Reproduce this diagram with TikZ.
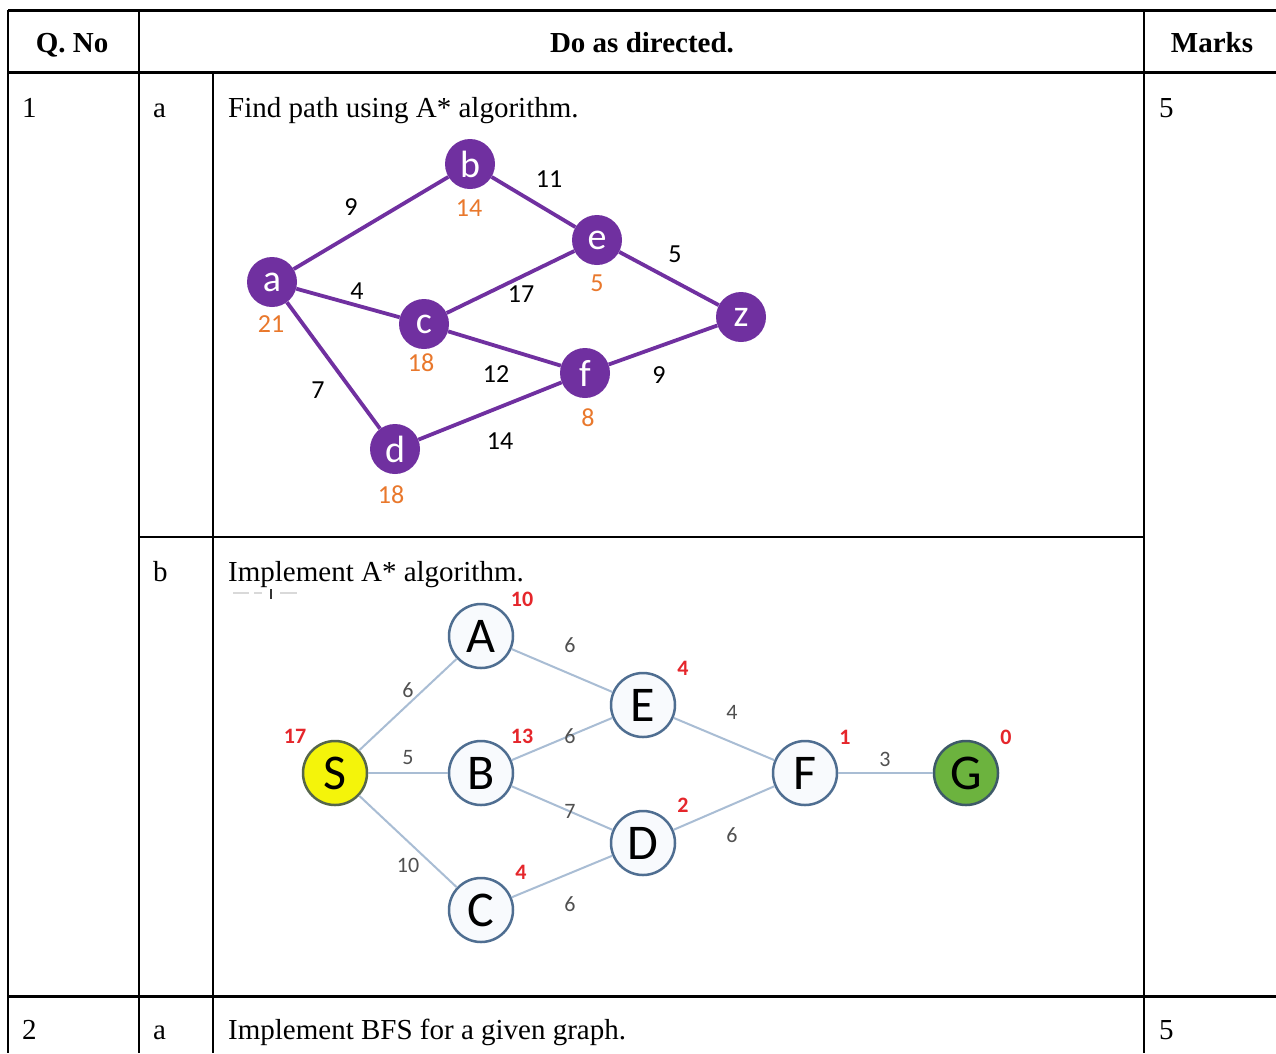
\documentclass[tikz,border=0pt]{standalone}
\usepackage{fontspec}
\setmainfont{Liberation Serif}
\newfontfamily\grfont{Carlito}
\definecolor{gpurple}{HTML}{7030A0}
\definecolor{gorange}{HTML}{E9782C}
\definecolor{gedge}{HTML}{A9BDD4}
\definecolor{gborder}{HTML}{4F6E91}
\definecolor{gfill}{HTML}{F8FAFD}
\definecolor{gred}{HTML}{E5262B}
\definecolor{gweight}{HTML}{505050}
\definecolor{syellow}{HTML}{F4F40A}
\definecolor{sborder}{HTML}{56664A}
\definecolor{ggreen}{HTML}{6CB33E}
\definecolor{gbord}{HTML}{3E5A68}
\tikzset{
  rule/.style={line width=2.5pt, black},
  thickrule/.style={line width=3pt, black},
  cell/.style={anchor=base west, inner sep=0pt, font=\fontsize{29}{34}\selectfont},
  head/.style={anchor=base, inner sep=0pt, font=\bfseries\fontsize{29}{34}\selectfont},
  pnode/.style={circle, fill=gpurple, text=white, minimum size=50pt, inner sep=0pt,
                font=\grfont\fontsize{38}{38}\selectfont},
  pedge/.style={draw=gpurple, line width=3.8pt},
  hval/.style={text=gorange, inner sep=0pt, font=\grfont\fontsize{26}{26}\selectfont},
  wval/.style={text=black, inner sep=0pt, font=\grfont\fontsize{26}{26}\selectfont},
  snode/.style={circle, draw=gborder, fill=gfill, line width=2.5pt, minimum size=64pt,
                inner sep=0pt, font=\grfont\fontsize{50}{50}\selectfont},
  sedge/.style={draw=gedge, line width=2pt},
  rval/.style={text=gred, inner sep=0pt, font=\grfont\bfseries\fontsize{22}{22}\selectfont},
  gval/.style={text=gweight, inner sep=0pt, font=\grfont\fontsize{22}{22}\selectfont},
}
\begin{document}
\begin{tikzpicture}[x=1pt, y=-1pt]
\useasboundingbox (0,0) rectangle (1276,1053);
\fill[white] (0,0) rectangle (1276,1053);

% table rules
\draw[thickrule] (8,10) -- (1276,10);
\draw[thickrule] (8,72) -- (1276,72);
\draw[thickrule] (8,996) -- (1276,996);
\draw[rule] (139,537) -- (1144,537);
\draw[rule] (8,10) -- (8,1053);
\draw[rule] (139,10) -- (139,1053);
\draw[rule] (213,72) -- (213,1053);
\draw[rule] (1144,10) -- (1144,1053);

% header
\node[head] (hq) at (72,52) {Q. No};
\node[head] (hd) at (642,52) {Do as directed.};
\node[head] (hm) at (1212,52) {Marks};

% rows
\node[cell] (q1) at (22,117) {1};
\node[cell] (p1a) at (153,117) {a};
\node[cell] (t1a) at (228,117) {Find path using A* algorithm.};
\node[cell] (m1) at (1159,117) {5};
\node[cell] (p1b) at (153,581) {b};
\node[cell] (t1b) at (228,581) {Implement A* algorithm.};
\node[cell] (q2) at (22,1039) {2};
\node[cell] (p2a) at (153,1039) {a};
\node[cell] (t2a) at (228,1039) {Implement BFS for a given graph.};
\node[cell] (m2) at (1159,1039) {5};

% clipped remnant under the second task line
\draw[black!15, line width=1.5pt] (233,593) -- (249,593) (254,593) -- (262,593) (280,593) -- (297,593);
\draw[black!80, line width=2.5pt] (271,589) -- (271,599);

% first graph
\node[pnode] (a) at (272,282) {a};
\node[pnode] (b) at (470,164) {b};
\node[pnode] (e) at (597,240) {e};
\node[pnode] (c) at (424,324) {c};
\node[pnode] (z) at (741,317) {z};
\node[pnode] (f) at (585,373) {f};
\node[pnode] (d) at (395,449) {d};
\draw[pedge] (a) -- (b);
\draw[pedge] (b) -- (e);
\draw[pedge] (e) -- (z);
\draw[pedge] (a) -- (c);
\draw[pedge] (c) -- (e);
\draw[pedge] (c) -- (f);
\draw[pedge] (a) -- (d);
\draw[pedge] (d) -- (f);
\draw[pedge] (f) -- (z);
\node[hval] (hb) at (469,208) {14};
\node[hval] (ha) at (271,324) {21};
\node[hval] (he) at (597,283) {5};
\node[hval] (hc) at (421,363) {18};
\node[hval] (hf) at (588,418) {8};
\node[hval] (hd2) at (391,495) {18};
\node[wval] (wab) at (351,207) {9};
\node[wval] (wbe) at (549,179) {11};
\node[wval] (wez) at (675,254) {5};
\node[wval] (wac) at (357,291) {4};
\node[wval] (wce) at (521,294) {17};
\node[wval] (wcf) at (496,374) {12};
\node[wval] (wfz) at (659,375) {9};
\node[wval] (wad) at (318,390) {7};
\node[wval] (wdf) at (500,441) {14};

% second graph
\node[snode, fill=syellow, draw=sborder] (S) at (335,773) {S};
\node[snode] (A) at (481,636) {A};
\node[snode] (B) at (481,773) {B};
\node[snode] (C) at (481,910) {C};
\node[snode] (E) at (643,705) {E};
\node[snode] (D) at (643,843) {D};
\node[snode] (F) at (805,773) {F};
\node[snode, fill=ggreen, draw=gbord] (G) at (966,773) {G};
\draw[sedge] (S) -- (A);
\draw[sedge] (S) -- (B);
\draw[sedge] (S) -- (C);
\draw[sedge] (A) -- (E);
\draw[sedge] (B) -- (E);
\draw[sedge] (B) -- (D);
\draw[sedge] (C) -- (D);
\draw[sedge] (E) -- (F);
\draw[sedge] (D) -- (F);
\draw[sedge] (F) -- (G);
\node[rval] (rA) at (522,599) {10};
\node[rval] (rE) at (683,668) {4};
\node[rval] (rS) at (295,736) {17};
\node[rval] (rB) at (522,736) {13};
\node[rval] (rD) at (683,805) {2};
\node[rval] (rC) at (521,872) {4};
\node[rval] (rF) at (845,737) {1};
\node[rval] (rG) at (1006,737) {0};
\node[gval] (gSA) at (408,690) {6};
\node[gval] (gSB) at (408,758) {5};
\node[gval] (gSC) at (408,865) {10};
\node[gval] (gAE) at (570,645) {6};
\node[gval] (gBE) at (570,736) {6};
\node[gval] (gBD) at (570,811) {7};
\node[gval] (gCD) at (570,904) {6};
\node[gval] (gEF) at (732,712) {4};
\node[gval] (gDF) at (732,835) {6};
\node[gval] (gFG) at (885,759) {3};
\end{tikzpicture}
\end{document}
